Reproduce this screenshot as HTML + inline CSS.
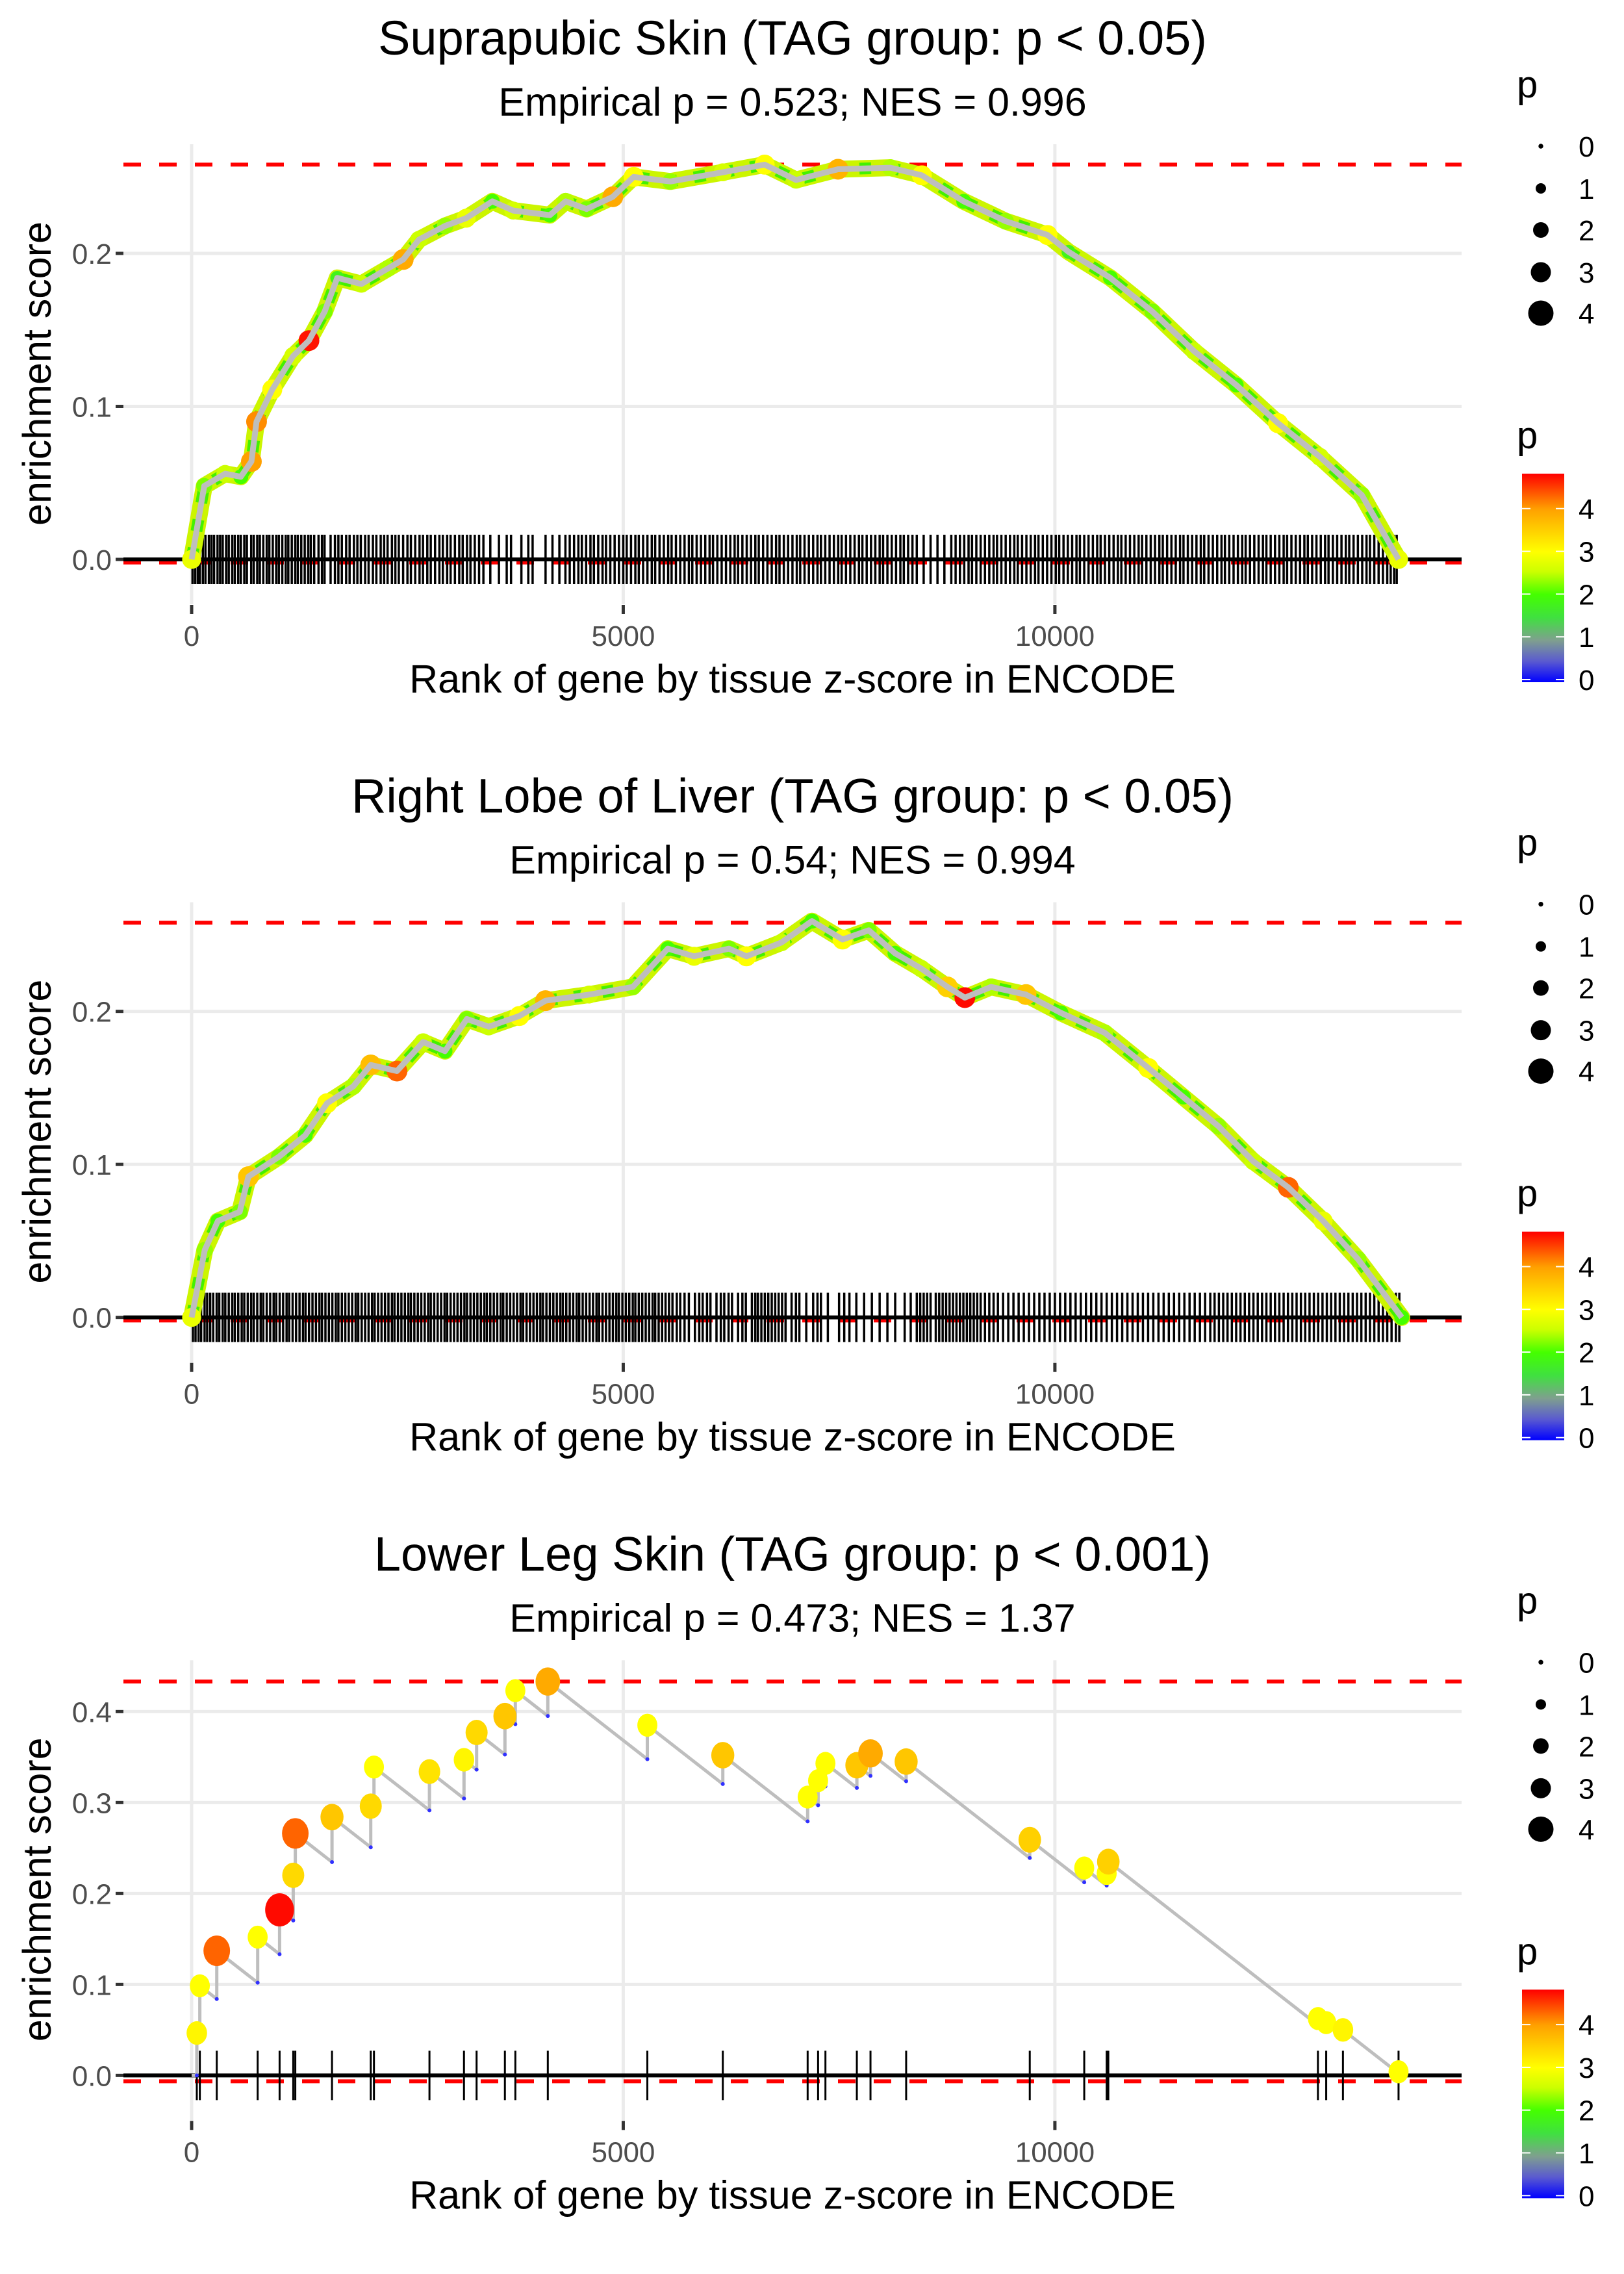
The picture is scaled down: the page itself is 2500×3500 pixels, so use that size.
<!DOCTYPE html>
<html><head><meta charset="utf-8">
<style>
html,body{margin:0;padding:0;background:#fff;}
svg{display:block;font-family:"Liberation Sans",sans-serif;}
</style></head>
<body>
<svg id="chart" width="2500" height="3500" viewBox="0 0 2500 3500" xmlns="http://www.w3.org/2000/svg">
<defs>
<linearGradient id="pgrad" x1="0" y1="1" x2="0" y2="0">
<stop offset="0" stop-color="#0000ff"/>
<stop offset="0.1" stop-color="#5a5ad0"/>
<stop offset="0.2" stop-color="#7f9f8f"/>
<stop offset="0.31" stop-color="#40e040"/>
<stop offset="0.42" stop-color="#44ff00"/>
<stop offset="0.53" stop-color="#ccff00"/>
<stop offset="0.625" stop-color="#ffff00"/>
<stop offset="0.83" stop-color="#ffa000"/>
<stop offset="1" stop-color="#ff0000"/>
</linearGradient>
</defs>
</svg>
<script>
// ---------- data ----------
const titles = ["Suprapubic Skin (TAG group: p < 0.05)","Right Lobe of Liver (TAG group: p < 0.05)","Lower Leg Skin (TAG group: p < 0.001)"];
const subtitles = ["Empirical p = 0.523; NES = 0.996","Empirical p = 0.54; NES = 0.994","Empirical p = 0.473; NES = 1.37"];
const maxES = [0.258, 0.258, 0.433];
const minES = [-0.002, -0.002, -0.0065];
const xTicks = [0, 5000, 10000];
const yTicks1 = [0, 0.1, 0.2];
const yTicks3 = [0, 0.1, 0.2, 0.3, 0.4];

const curve1Rank = [0,146,388,570,692,752,934,1177,1359,1541,1687,1966,2269,2451,2633,2937,3180,3483,3726,4150,4332,4575,4879,5121,5546,6153,6638,7002,7488,8095,8459,8944,9430,9915,10158,10643,11129,11614,12100,12585,13070,13556,13981];
const curve1ES = [0,0.048,0.056,0.054,0.064,0.09,0.111,0.133,0.143,0.162,0.184,0.180,0.190,0.196,0.209,0.218,0.223,0.234,0.228,0.225,0.234,0.229,0.237,0.250,0.247,0.253,0.258,0.248,0.255,0.256,0.251,0.234,0.221,0.212,0.201,0.184,0.162,0.136,0.114,0.089,0.067,0.042,0];
const curve1P = [2.8,2.2,2.5,2.0,4.0,4.1,3.0,2.6,4.7,2.2,1.8,2.5,2.4,3.9,2.5,2.3,2.8,2.0,2.6,2.0,2.4,2.2,3.9,3.0,2.3,2.6,3.0,2.5,3.8,2.4,3.0,2.0,2.3,3.0,1.8,2.0,2.2,2.5,2.0,3.0,2.6,2.3,2.8];

const curve2Rank = [0,152,304,557,658,1012,1316,1569,1872,2075,2379,2682,2935,3188,3441,3796,4099,4605,5111,5516,5820,6225,6427,6832,7186,7540,7844,8148,8451,8755,8957,9261,9666,10071,10577,11083,11488,11893,12298,12703,13108,13512,14018];
const curve2ES = [0,0.044,0.063,0.069,0.092,0.105,0.119,0.140,0.151,0.165,0.161,0.180,0.174,0.195,0.190,0.197,0.207,0.211,0.216,0.241,0.236,0.241,0.236,0.245,0.259,0.247,0.253,0.238,0.228,0.216,0.209,0.216,0.211,0.199,0.186,0.163,0.144,0.125,0.102,0.085,0.063,0.038,0];
const curve2P = [2.8,2.3,2.0,2.2,3.6,2.2,2.0,3.0,2.4,3.7,4.3,2.5,2.0,2.2,2.5,3.0,3.8,2.6,2.3,2.0,2.8,2.2,3.0,2.5,2.0,3.0,2.2,2.0,2.5,3.5,4.75,2.4,3.6,2.0,2.4,3.0,2.0,2.3,2.5,4.3,2.8,2.3,2.0];

const hit3Rank = [60,95,291,765,1019,1177,1201,1626,2075,2112,2755,3155,3301,3629,3750,4126,5279,6153,7136,7257,7342,7706,7864,8277,9709,10340,10600,10619,13047,13143,13337,13981];
const hit3ES = [0.0466,0.0985,0.137,0.152,0.182,0.220,0.266,0.284,0.296,0.339,0.334,0.347,0.377,0.395,0.423,0.433,0.385,0.352,0.306,0.324,0.343,0.341,0.354,0.345,0.259,0.228,0.222,0.235,0.0625,0.058,0.050,0.004];
const hit3P = [3.1,3.0,4.3,3.0,4.75,3.4,4.3,3.6,3.4,3.0,3.3,3.1,3.4,3.6,3.0,3.9,3.0,3.6,3.0,3.0,3.0,3.6,3.9,3.6,3.5,3.0,3.0,3.5,3.0,3.0,3.1,3.0];

const rug1 = [10,40,70,95,130,160,200,230,260,300,330,360,400,430,470,500,540,570,610,640,690,720,760,790,830,870,900,940,980,1010,1050,1090,1120,1160,1200,1230,1270,1310,1350,1380,1420,1470,1510,1540,1610,1660,1700,1740,1790,1830,1880,1920,1960,2010,2050,2100,2140,2190,2230,2270,2320,2360,2400,2450,2500,2540,2590,2640,2680,2730,2770,2820,2870,2910,2960,3000,3050,3100,3140,3190,3230,3280,3330,3380,3460,3560,3650,3700,3820,3900,3950,4100,4180,4260,4330,4380,4430,4480,4520,4570,4620,4660,4710,4760,4800,4850,4900,4950,5000,5040,5090,5140,5180,5230,5280,5330,5370,5420,5470,5520,5560,5610,5660,5710,5760,5800,5850,5900,5950,6000,6040,6090,6140,6190,6240,6290,6330,6380,6430,6480,6530,6570,6620,6670,6720,6770,6810,6860,6910,6960,7010,7050,7100,7150,7200,7250,7290,7340,7390,7440,7490,7530,7580,7630,7680,7730,7770,7820,7870,7920,7970,8010,8060,8110,8160,8210,8250,8300,8350,8400,8480,8560,8640,8720,8800,8850,8900,8950,9000,9040,9090,9140,9190,9240,9290,9330,9380,9430,9480,9530,9570,9620,9670,9720,9770,9810,9860,9910,9960,10010,10050,10100,10150,10200,10250,10290,10340,10390,10440,10490,10530,10580,10630,10680,10730,10770,10820,10870,10920,10970,11010,11060,11110,11160,11210,11250,11300,11350,11400,11450,11490,11540,11590,11640,11690,11730,11780,11830,11880,11930,11970,12020,12070,12120,12170,12210,12260,12310,12360,12410,12450,12500,12550,12600,12650,12690,12740,12790,12840,12890,12930,12980,13030,13080,13130,13170,13220,13270,13320,13370,13410,13460,13510,13560,13610,13650,13700,13750,13800,13850,13890,13930,13960];
const rug2 = [15,45,80,110,150,180,215,250,290,320,360,390,430,470,500,540,580,610,650,690,720,760,800,830,870,910,950,980,1020,1060,1100,1130,1170,1210,1250,1290,1320,1360,1400,1440,1480,1510,1550,1590,1630,1670,1700,1740,1780,1820,1860,1900,1930,1970,2010,2050,2090,2120,2160,2200,2240,2280,2320,2350,2390,2430,2470,2510,2540,2580,2620,2660,2700,2740,2770,2810,2850,2890,2930,2960,3000,3040,3080,3120,3160,3190,3230,3270,3310,3350,3390,3420,3460,3500,3540,3580,3610,3650,3690,3730,3770,3810,3840,3880,3920,3960,4000,4040,4070,4110,4150,4190,4230,4270,4300,4340,4380,4420,4460,4490,4530,4570,4610,4650,4690,4720,4760,4800,4840,4880,4920,4950,4990,5030,5070,5110,5140,5180,5220,5260,5300,5340,5370,5410,5450,5490,5530,5570,5620,5660,5710,5760,5830,5880,5920,5970,6010,6080,6130,6170,6220,6260,6330,6380,6420,6490,6530,6560,6600,6640,6680,6720,6760,6800,6840,6880,6950,7000,7040,7120,7200,7250,7290,7370,7500,7560,7620,7700,7790,7880,7970,8060,8150,8260,8330,8400,8440,8480,8520,8560,8620,8660,8700,8740,8780,8820,8860,8900,8940,8980,9020,9060,9100,9140,9190,9240,9290,9340,9400,9460,9520,9580,9640,9700,9760,9820,9880,9940,10000,10060,10120,10180,10240,10300,10360,10420,10480,10540,10600,10660,10720,10780,10840,10900,10960,11020,11080,11140,11200,11260,11320,11380,11440,11500,11560,11620,11680,11740,11800,11850,11900,11950,12000,12050,12100,12150,12200,12250,12300,12350,12400,12450,12500,12550,12600,12650,12700,12750,12800,12850,12900,12950,13000,13050,13100,13150,13200,13250,13300,13350,13400,13450,13500,13550,13600,13650,13700,13750,13800,13850,13900,13950,13990];

// ---------- helpers ----------
const NS = "http://www.w3.org/2000/svg";
const svg = document.getElementById("chart");
function mk(tag, attrs, parent){ const e=document.createElementNS(NS,tag); for(const k in attrs) e.setAttribute(k,attrs[k]); (parent||svg).appendChild(e); return e; }
const X = r => 295 + r*0.13289;
const stops = [[0,[0,0,255]],[0.5,[90,90,208]],[1,[127,159,143]],[1.5,[64,224,64]],[2,[68,255,0]],[2.5,[204,255,0]],[3,[255,255,0]],[4,[255,160,0]],[4.8,[255,0,0]]];
function pcol(p){ p=Math.max(0,Math.min(4.8,p)); for(let i=1;i<stops.length;i++){ if(p<=stops[i][0]){ const a=stops[i-1],b=stops[i],t=(p-a[0])/(b[0]-a[0]); const c=a[1].map((v,j)=>Math.round(v+(b[1][j]-v)*t)); return `rgb(${c[0]},${c[1]},${c[2]})`; } } return "rgb(255,0,0)"; }
const prad = p => 3.7 + p*3.9;

function panel(k){
  const oy = k*3500/3;
  const sc = k===2 ? 1400 : 2355;
  const Y = v => oy + 861 - v*sc;
  const g = mk("g",{});
  
  
  let t = mk("text",{x:1220,y:oy+84,"text-anchor":"middle","font-size":74,fill:"#000"},g); t.textContent=titles[k];
  
  
  t = mk("text",{x:1220,y:oy+178,"text-anchor":"middle","font-size":61,fill:"#000"},g); t.textContent=subtitles[k];
  
  
  const yt = k===2 ? yTicks3 : yTicks1;
  yt.forEach(v=>{
    const l=mk("line",{x1:190,x2:2250,y1:Y(v),y2:Y(v),stroke:"#ebebeb","stroke-width":5},g);
    
    
  });
  xTicks.forEach(v=>{
    const l=mk("line",{x1:X(v),x2:X(v),y1:oy+222,y2:oy+930,stroke:"#ebebeb","stroke-width":5},g);
    
    
  });
  let l = mk("line",{x1:190,x2:2250,y1:Y(maxES[k]),y2:Y(maxES[k]),stroke:"#ff0000","stroke-width":6,"stroke-dasharray":"27,28"},g);
  
  
  l = mk("line",{x1:190,x2:2250,y1:Y(minES[k]),y2:Y(minES[k]),stroke:"#ff0000","stroke-width":6,"stroke-dasharray":"27,28"},g);
  
  
  const rug = k===0 ? rug1 : k===1 ? rug2 : hit3Rank;
  const rg = mk("g",{stroke:"#000","stroke-width": k===2?3:3.5},g);
  
  
  rug.forEach(r=>{
    const ln=mk("line",{x1:X(r),x2:X(r),y1:oy+823,y2:oy+899},rg);
    
    
  });
  l = mk("line",{x1:190,x2:2250,y1:Y(0),y2:Y(0),stroke:"#000","stroke-width":6},g);
  
  
  if(k<2){
    const R = k===0?curve1Rank:curve2Rank, E = k===0?curve1ES:curve2ES, P = k===0?curve1P:curve2P;
    const d = R.map((r,i)=>(i?"L":"M")+X(r).toFixed(1)+","+Y(E[i]).toFixed(1)).join(" ");
    let p = mk("path",{d:d,fill:"none",stroke:"#ccf500","stroke-width":26,"stroke-linejoin":"round","stroke-linecap":"round"},g);
    
    
    p = mk("path",{d:d,fill:"none",stroke:"#44f000","stroke-width":18,"stroke-linejoin":"round","stroke-dasharray":"18,26"},g);
    
    
    R.forEach((r,i)=>{
      const c=mk("circle",{cx:X(r),cy:Y(E[i]),r:Math.min(prad(P[i]),16),fill:pcol(P[i])},g);
      
      
    });
    p = mk("path",{d:d,fill:"none",stroke:"#bebebe","stroke-width":9,"stroke-linejoin":"round"},g);
    
    
  } else {
    const dec = 7.4e-5;
    let d = "M"+X(0)+","+Y(0);
    let prevR=0, prevE=0;
    const bottoms=[];
    hit3Rank.forEach((r,i)=>{
      const b = i===0 ? 0 : prevE - dec*(r-prevR);
      d += " L"+X(r).toFixed(1)+","+Y(b).toFixed(1)+" L"+X(r).toFixed(1)+","+Y(hit3ES[i]).toFixed(1);
      bottoms.push([r,b]);
      prevR=r; prevE=hit3ES[i];
    });
    const p = mk("path",{d:d,fill:"none",stroke:"#bebebe","stroke-width":5,"stroke-linejoin":"round"},g);
    
    
    bottoms.forEach(b=>{
      const c=mk("circle",{cx:X(b[0]),cy:Y(b[1]),r:3,fill:"#3030ff"},g);
      
      
    });
    hit3Rank.forEach((r,i)=>{
      const c=mk("ellipse",{cx:X(r),cy:Y(hit3ES[i]),rx:prad(hit3P[i])*1.0,ry:prad(hit3P[i])*1.15,fill:pcol(hit3P[i])},g);
      
      
    });
  }
  yt.forEach(v=>{
    const tk=mk("line",{x1:178,x2:190,y1:Y(v),y2:Y(v),stroke:"#333","stroke-width":5},g);
    
    
    const tx=mk("text",{x:172,y:Y(v)+16,"text-anchor":"end","font-size":44,fill:"#4d4d4d"},g);
    tx.textContent=v.toFixed(1);
    
    
  });
  xTicks.forEach(v=>{
    const tk=mk("line",{x1:X(v),x2:X(v),y1:oy+931,y2:oy+945,stroke:"#333","stroke-width":5},g);
    
    
    const tx=mk("text",{x:X(v),y:oy+994,"text-anchor":"middle","font-size":44,fill:"#4d4d4d"},g);
    tx.textContent=String(v);
    
    
  });
  t = mk("text",{x:1220,y:oy+1066,"text-anchor":"middle","font-size":61,fill:"#000"},g); t.textContent="Rank of gene by tissue z-score in ENCODE";
  
  
  t = mk("text",{x:0,y:0,"text-anchor":"middle","font-size":61,fill:"#000",transform:`translate(78,${oy+575}) rotate(-90)`},g); t.textContent="enrichment score";
  
  
  const lg = mk("g",{},g);
  
  
  t = mk("text",{x:2335,y:oy+150,"font-size":58,fill:"#000"},lg); t.textContent="p";
  
  
  const ly=[225,290,354,419,482], lr=[3.7,8,12,15.5,19.5];
  ly.forEach((yy,i)=>{
    const c=mk("circle",{cx:2372,cy:oy+yy,r:lr[i],fill:"#000"},lg);
    
    
    const tx=mk("text",{x:2430,y:oy+yy+16,"font-size":44,fill:"#000"},lg); tx.textContent=String(i);
    
    
  });
  const cg = mk("g",{},g);
  
  
  t = mk("text",{x:2335,y:oy+690,"font-size":58,fill:"#000"},cg); t.textContent="p";
  
  
  const bar=mk("rect",{x:2343,y:oy+729,width:65,height:321,fill:"url(#pgrad)"},cg);
  
  
  for(let i=0;i<=4;i++){
    const yy = oy+1046 - i*65.8;
    mk("line",{x1:2343,x2:2356,y1:yy,y2:yy,stroke:"#fff","stroke-width":2},cg);
    mk("line",{x1:2395,x2:2408,y1:yy,y2:yy,stroke:"#fff","stroke-width":2},cg);
    const tx=mk("text",{x:2430,y:yy+16,"font-size":44,fill:"#000"},cg); tx.textContent=String(i);
    
    
  }
}
[0,1,2].forEach(panel);
</script>
</body></html>
